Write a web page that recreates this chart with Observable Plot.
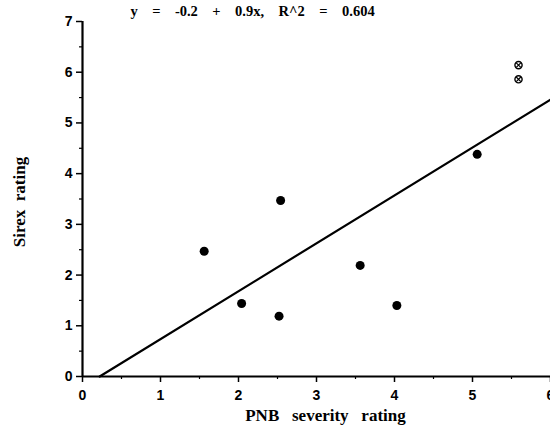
<!DOCTYPE html>
<html><head><meta charset="utf-8">
<script src="https://cdn.jsdelivr.net/npm/d3@7"></script>
<script src="https://cdn.jsdelivr.net/npm/@observablehq/plot@0.6"></script>
<style>body{margin:0;background:#fff;overflow:hidden}</style>
</head><body><div id="chart"></div>
<script>
const pnb = [1.56, 2.04, 2.52, 2.54, 3.56, 4.03, 5.06];
const sirex = [2.47, 1.44, 1.19, 3.47, 2.19, 1.40, 4.38];
const pnbCircled = [5.59, 5.59];
const sirexCircled = [6.14, 5.86];
const fitX = [0.22, 6];
const fitY = [0, 5.46];
const xTicks = [0, 1, 2, 3, 4, 5, 6];
const xMinor = [0.5, 1.5, 2.5, 3.5, 4.5, 5.5];
const yTicks = [0, 1, 2, 3, 4, 5, 6, 7];
const yMinor = [0.5, 1.5, 2.5, 3.5, 4.5, 5.5, 6.5];
const titleText = "y    =    -0.2    +    0.9x,    R^2    =    0.604";
const xLabel = "PNB   severity   rating";
const yLabel = "Sirex  rating";

const pts = pnb.map((x, i) => ({x, y: sirex[i]}));
const circ = pnbCircled.map((x, i) => ({x, y: sirexCircled[i]}));
const fit = fitX.map((x, i) => ({x, y: fitY[i]}));

const tickFont = {fontFamily: "Liberation Sans, Arial, sans-serif", fontSize: 14, fontWeight: "bold"};
const serif = "Liberation Serif, Times New Roman, serif";

const chart = Plot.plot({
  width: 550, height: 434,
  marginLeft: 82, marginRight: 0, marginTop: 21, marginBottom: 58,
  x: {domain: [0, 6]},
  y: {domain: [0, 7]},
  style: {background: "white", color: "black"},
  marks: [
    Plot.axisX(xTicks, {tickSize: 6, tickPadding: 8, tickFormat: d => d, label: null, ...tickFont, strokeWidth: 1.5}),
    Plot.axisX(xMinor, {tickSize: 3, tickFormat: () => "", label: null, strokeWidth: 1.2}),
    Plot.axisY(yTicks, {tickSize: 6, tickPadding: 4, tickFormat: d => d, label: null, ...tickFont, strokeWidth: 1.5}),
    Plot.axisY(yMinor, {tickSize: 3, tickFormat: () => "", label: null, strokeWidth: 1.2}),
    Plot.ruleY([0], {stroke: "black", strokeWidth: 2.2}),
    Plot.ruleX([0], {stroke: "black", strokeWidth: 2.2}),
    Plot.line(fit, {x: "x", y: "y", stroke: "black", strokeWidth: 2.2}),
    Plot.dot(pts, {x: "x", y: "y", r: 4.5, fill: "black", stroke: "none"}),
    Plot.dot(circ, {x: "x", y: "y", r: 3.6, fill: "white", stroke: "black", strokeWidth: 1.4}),
    Plot.dot(circ, {x: "x", y: "y", r: 2.2, symbol: "times", stroke: "black", strokeWidth: 1.2}),
    Plot.text([titleText], {frameAnchor: "top", textAnchor: "middle", dx: -64, dy: -6, lineAnchor: "bottom", fontFamily: serif, fontWeight: "bold", fontSize: 14.5, fill: "black"}),
    Plot.text([xLabel], {frameAnchor: "bottom", textAnchor: "middle", dx: 9, dy: 44, fontFamily: serif, fontWeight: "bold", fontSize: 17, fill: "black"}),
    Plot.text([yLabel], {frameAnchor: "left", textAnchor: "middle", rotate: -90, dx: -63, dy: 3, fontFamily: serif, fontWeight: "bold", fontSize: 17, fill: "black"})
  ]
});
document.getElementById("chart").appendChild(chart);
</script>
</body></html>
